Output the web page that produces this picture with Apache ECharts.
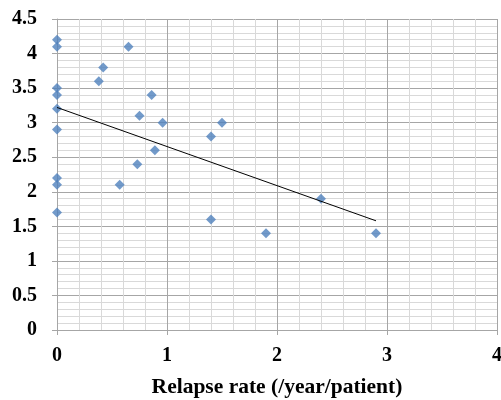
<!DOCTYPE html>
<html lang="en">
<head>
  <meta charset="UTF-8">
  <title>Relapse rate scatter</title>
  <style>
    html, body { margin: 0; padding: 0; background: #fff; }
    #chart { width: 501px; height: 400px; }
  </style>
  <script src="https://cdn.jsdelivr.net/npm/echarts@6/dist/echarts.min.js"></script>
</head>
<body>
  <div id="chart"></div>
  <script>
    // relapse rate (/year/patient) and the y value of each patient
    var relapseRate = [0, 0, 0, 0, 0, 0, 0, 0, 0,
      0.38, 0.42, 0.65, 0.86, 0.75, 0.96, 0.89, 0.73, 0.57,
      1.4, 1.5, 1.4, 1.9, 2.4, 2.9];
    var score = [4.2, 4.1, 3.5, 3.4, 3.2, 2.9, 2.2, 2.1, 1.7,
      3.6, 3.8, 4.1, 3.4, 3.1, 3.0, 2.6, 2.4, 2.1,
      2.8, 3.0, 1.6, 1.4, 1.9, 1.4];
    // linear trend line end points
    var trendX = [0, 2.9];
    var trendY = [3.22, 1.58];

    var chart = echarts.init(document.getElementById('chart'));
    var font = 'Liberation Serif, Times New Roman, serif';

    var points = relapseRate.map(function (x, i) { return [x, score[i]]; });
    var trend = trendX.map(function (x, i) { return [x, trendY[i]]; });

    chart.setOption({
      animation: false,
      grid: { left: 57, right: 4, top: 19, bottom: 70, outerBoundsMode: 'none', containLabel: false },
      xAxis: {
        type: 'value',
        min: 0, max: 4, interval: 1,
        name: 'Relapse rate (/year/patient)',
        nameLocation: 'middle',
        nameGap: 46,
        nameTextStyle: { fontFamily: font, fontWeight: 'bold', fontSize: 21.5, color: '#000' },
        axisLine: { show: true, lineStyle: { color: '#a6a6a6' } },
        axisTick: { show: true, length: 5, lineStyle: { color: '#a6a6a6' } },
        axisLabel: { fontFamily: font, fontWeight: 'bold', fontSize: 20, color: '#000', margin: 16 },
        splitLine: { show: true, lineStyle: { color: '#a6a6a6' } },
        minorTick: { show: false, splitNumber: 5 },
        minorSplitLine: { show: true, lineStyle: { color: '#d9d9d9' } }
      },
      yAxis: {
        type: 'value',
        min: 0, max: 4.5, interval: 0.5,
        axisLine: { show: true, lineStyle: { color: '#a6a6a6' } },
        axisTick: { show: true, length: 5, lineStyle: { color: '#a6a6a6' } },
        axisLabel: { fontFamily: font, fontWeight: 'bold', fontSize: 20, color: '#000', margin: 20 },
        splitLine: { show: true, lineStyle: { color: '#a6a6a6' } },
        minorTick: { show: false, splitNumber: 5 },
        minorSplitLine: { show: true, lineStyle: { color: '#d9d9d9' } }
      },
      series: [{
        type: 'scatter',
        data: points,
        symbol: 'diamond',
        symbolSize: 10,
        itemStyle: { color: '#4f81bd' },
        z: 2
      }, {
        type: 'line',
        data: trend,
        symbol: 'none',
        lineStyle: { color: '#000', width: 1 },
        z: 3
      }]
    });
  </script>
</body>
</html>
